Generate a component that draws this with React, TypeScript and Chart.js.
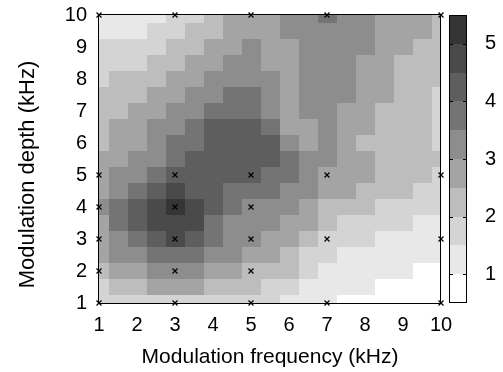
import { useEffect, useRef } from "react";
import { Chart, registerables } from "chart.js";

Chart.register(...registerables);

// grid node positions (kHz)
const xNodes = [1, 1.5, 2, 2.5, 3, 3.5, 4, 4.5, 5, 5.5, 6, 6.5, 7, 7.5, 8, 8.5, 9, 9.5, 10];
const yNodes = [10, 9.5, 9, 8.5, 8, 7.5, 7, 6.5, 6, 5.5, 5, 4.5, 4, 3.5, 3, 2.5, 2, 1.5, 1];

// values per row, x = 1 .. 10
const r10 = [1.35, 1.26, 1.26, 1.35, 1.71, 1.98, 2.33, 2.51, 2.69, 2.87, 3.27, 3.31, 3.58, 3.31, 3.27, 2.69, 2.69, 2.69, 2.42];
const r9_5 = [1.44, 1.35, 1.44, 1.62, 1.8, 2.15, 2.42, 2.69, 2.87, 2.87, 3.31, 3.31, 3.49, 3.31, 3.27, 2.69, 2.69, 2.6, 2.33];
const r9 = [1.62, 1.62, 1.71, 1.89, 2.07, 2.33, 2.6, 2.87, 3.05, 2.96, 2.95, 3.31, 3.4, 3.31, 3.23, 2.69, 2.69, 2.33, 2.33];
const r8_5 = [1.8, 1.89, 1.98, 2.15, 2.33, 2.6, 2.87, 3.05, 3.23, 2.95, 2.78, 3.31, 3.36, 3.31, 2.78, 2.69, 2.42, 2.33, 2.15];
const r8 = [1.98, 2.07, 2.15, 2.42, 2.69, 2.96, 3.23, 3.4, 3.4, 3.1, 2.69, 3.27, 3.36, 3.27, 2.69, 2.69, 2.33, 2.33, 2.07];
const r7_5 = [2.07, 2.24, 2.42, 2.69, 2.96, 3.23, 3.49, 3.67, 3.58, 3.2, 2.78, 3.23, 3.36, 3.23, 2.69, 2.51, 2.33, 2.24, 1.98];
const r7 = [2.24, 2.42, 2.6, 2.96, 3.23, 3.49, 3.76, 3.89, 3.76, 3.49, 2.87, 3.05, 3.31, 2.69, 2.69, 2.26, 2.26, 2.15, 1.98];
const r6_5 = [2.33, 2.51, 2.78, 3.14, 3.4, 3.76, 4.03, 4.12, 4.03, 3.76, 2.9, 2.87, 3.27, 2.69, 2.51, 2.24, 2.15, 2.07, 1.89];
const r6 = [2.42, 2.69, 2.96, 3.31, 3.58, 3.94, 4.21, 4.3, 4.25, 4.03, 3.2, 2.87, 3.14, 2.69, 2.3, 2.24, 2.24, 2.15, 1.95];
const r5_5 = [2.51, 2.87, 3.05, 3.47, 3.89, 4.12, 4.25, 4.25, 4.25, 4.1, 3.76, 3.3, 3.2, 2.78, 2.69, 2.42, 2.33, 2.15, 2.1];
const r5 = [2.69, 3.05, 3.4, 3.83, 4.12, 4.12, 4.12, 4.03, 4.07, 3.94, 3.76, 3.4, 2.87, 2.69, 2.51, 2.33, 2.24, 2.15, 1.89];
const r4_5 = [2.87, 3.31, 3.76, 4.25, 4.55, 4.34, 4.07, 3.76, 3.76, 3.67, 3.47, 3.14, 2.69, 2.51, 2.33, 2.15, 2.07, 1.89, 1.8];
const r4 = [3.05, 3.58, 4.12, 4.54, 5.05, 4.55, 4.07, 3.58, 3.47, 3.47, 3.23, 2.87, 2.42, 2.24, 2.07, 1.89, 1.8, 1.71, 1.8];
const r3_5 = [2.87, 3.58, 4.12, 4.54, 4.75, 4.5, 3.94, 3.47, 3.27, 3.23, 2.96, 2.6, 2.15, 1.98, 1.8, 1.69, 1.57, 1.44, 1.35];
const r3 = [2.76, 3.4, 3.89, 4.4, 4.55, 4.12, 3.72, 3.27, 3.05, 2.96, 2.69, 2.33, 1.89, 1.71, 1.57, 1.44, 1.35, 1.26, 1.26];
const r2_5 = [2.51, 3.05, 3.4, 3.72, 3.89, 3.72, 3.4, 3.05, 2.78, 2.69, 2.4, 1.98, 1.66, 1.44, 1.35, 1.26, 1.17, 1.17, 1.26];
const r2 = [2.33, 2.69, 2.96, 3.12, 3.23, 3.12, 2.96, 2.69, 2.42, 2.33, 2.07, 1.71, 1.39, 1.26, 1.17, 1.17, 1.08, 0.95, 0.85];
const r1_5 = [1.98, 2.15, 2.33, 2.51, 2.6, 2.51, 2.4, 2.24, 2.07, 1.98, 1.71, 1.44, 1.26, 1.15, 1.05, 0.8, 0.75, 0.75, 0.75];
const r1 = [1.62, 1.71, 1.8, 1.89, 1.89, 1.89, 1.8, 1.71, 1.62, 1.53, 1.44, 1.26, 1.08, 0.85, 0.75, 0.75, 0.75, 0.75, 0.75];

const gridRows = [r10, r9_5, r9, r8_5, r8, r7_5, r7, r6_5, r6, r5_5, r5, r4_5, r4, r3_5, r3, r2_5, r2, r1_5, r1];

// measured sample points
const sampleX = [1, 3, 5, 7, 10, 1, 3, 5, 7, 10, 1, 3, 5, 1, 3, 5, 7, 10, 1, 3, 5, 1, 3, 5, 7, 10];
const sampleY = [10, 10, 10, 10, 10, 5, 5, 5, 5, 5, 4, 4, 4, 3, 3, 3, 3, 3, 2, 2, 2, 1, 1, 1, 1, 1];

// colour scale
const levelBounds = [0.5, 1, 1.5, 2, 2.5, 3, 3.5, 4, 4.5, 5, 5.5];
const levelColors = ["#ffffff", "#e8e8e8", "#d4d4d4", "#bdbdbd", "#a4a4a4", "#8d8d8d", "#747474", "#5e5e5e", "#4a4a4a", "#353535"];

const xTicks = [1, 2, 3, 4, 5, 6, 7, 8, 9, 10];
const yTicks = [1, 2, 3, 4, 5, 6, 7, 8, 9, 10];
const colorTicks = [1, 2, 3, 4, 5];

const xTitle = "Modulation frequency (kHz)";
const yTitle = "Modulation depth (kHz)";

const FONT = "'Liberation Sans', Arial, Helvetica, sans-serif";

function levelColor(v: number): string {
  for (let k = 0; k < levelColors.length; k++) {
    if (v < levelBounds[k + 1]) return levelColors[k];
  }
  return levelColors[levelColors.length - 1];
}

function noPad(s: any) {
  s.paddingTop = 0;
  s.paddingBottom = 0;
  s.paddingLeft = 0;
  s.paddingRight = 0;
}

const heatPlugin = {
  id: "heat",
  beforeDatasetsDraw(chart: any) {
    const { ctx, chartArea, scales } = chart;
    const xs = scales.x;
    const ys = scales.y;
    const cs = scales.y2;
    const xMin = xNodes[0];
    const xMax = xNodes[xNodes.length - 1];
    const yMin = yNodes[yNodes.length - 1];
    const yMax = yNodes[0];
    ctx.save();
    for (let r = 0; r < yNodes.length; r++) {
      for (let c = 0; c < xNodes.length; c++) {
        const v = gridRows[r][c];
        const x0 = Math.max(xMin, xNodes[c] - 0.25);
        const x1 = Math.min(xMax, xNodes[c] + 0.25);
        const y0 = Math.max(yMin, yNodes[r] - 0.25);
        const y1 = Math.min(yMax, yNodes[r] + 0.25);
        const px0 = Math.round(xs.getPixelForValue(x0));
        const px1 = Math.round(xs.getPixelForValue(x1));
        const py0 = Math.round(ys.getPixelForValue(y1));
        const py1 = Math.round(ys.getPixelForValue(y0));
        ctx.fillStyle = levelColor(v);
        ctx.fillRect(px0, py0, px1 - px0, py1 - py0);
      }
    }
    // frame of plot
    ctx.strokeStyle = "#000";
    ctx.lineWidth = 1;
    const L = Math.round(chartArea.left);
    const T = Math.round(chartArea.top);
    const R = Math.round(chartArea.right);
    const B = Math.round(chartArea.bottom);
    ctx.strokeRect(L - 0.5, T - 0.5, R - L, B - T + 1);

    // colour bar
    const cx0 = Math.round(cs.left) + 8;
    const cx1 = cx0 + 18;
    for (let k = 0; k < levelColors.length; k++) {
      const yTop = Math.round(cs.getPixelForValue(levelBounds[k + 1]));
      const yBot = Math.round(cs.getPixelForValue(levelBounds[k]));
      ctx.fillStyle = levelColors[k];
      ctx.fillRect(cx0, yTop, cx1 - cx0, yBot - yTop);
    }
    const cTop = Math.round(cs.getPixelForValue(levelBounds[levelBounds.length - 1]));
    const cBot = Math.round(cs.getPixelForValue(levelBounds[0]));
    ctx.strokeRect(cx0 + 0.5, cTop + 0.5, cx1 - cx0 - 1, cBot - cTop - 1);
    ctx.beginPath();
    for (const t of colorTicks) {
      const py = Math.round(cs.getPixelForValue(t)) + 0.5;
      ctx.moveTo(cx0, py);
      ctx.lineTo(cx0 + 4, py);
      ctx.moveTo(cx1 - 4, py);
      ctx.lineTo(cx1, py);
    }
    ctx.stroke();
    ctx.restore();
  },
  afterDraw(chart: any) {
    // y-axis title, centred on the full figure height as in the reference
    const { ctx } = chart;
    ctx.save();
    ctx.translate(27.5, 174.5);
    ctx.rotate(-Math.PI / 2);
    ctx.font = `22px ${FONT}`;
    ctx.fillStyle = "#000";
    ctx.textAlign = "center";
    ctx.textBaseline = "middle";
    ctx.fillText(yTitle, 0, 0);
    ctx.restore();
  },
};

export default function App() {
  const canvasRef = useRef<HTMLCanvasElement | null>(null);

  useEffect(() => {
    document.body.style.margin = "0";
    const canvas = canvasRef.current;
    if (!canvas) return;
    const points = sampleX.map((x, i) => ({ x, y: sampleY[i] }));
    const chart = new Chart(canvas, {
      type: "scatter",
      data: {
        datasets: [
          {
            data: points,
            pointStyle: "crossRot",
            pointRadius: 3.5,
            pointHoverRadius: 3.5,
            borderColor: "#000",
            backgroundColor: "#000",
            borderWidth: 1.2,
            clip: false as any,
          },
        ],
      },
      options: {
        responsive: false,
        animation: false,
        devicePixelRatio: 1,
        events: [],
        layout: { padding: { left: 0, right: 0, top: 15, bottom: 0 } },
        plugins: { legend: { display: false }, tooltip: { enabled: false } },
        scales: {
          x: {
            type: "linear",
            position: "bottom",
            min: 1,
            max: 10,
            grid: { display: false, drawTicks: false },
            border: { display: false },
            afterBuildTicks: (s: any) => {
              s.ticks = xTicks.map((v) => ({ value: v }));
            },
            afterFit: (s: any) => {
              s.height = 69;
              noPad(s);
            },
            ticks: {
              autoSkip: false,
              maxRotation: 0,
              padding: 10,
              color: "#000",
              font: { family: FONT, size: 20 },
            },
            title: {
              display: true,
              text: xTitle,
              color: "#000",
              font: { family: FONT, size: 21 },
              padding: { top: 0, bottom: 2 },
            },
          },
          y: {
            type: "linear",
            position: "left",
            min: 1,
            max: 10,
            grid: { display: false, drawTicks: false },
            border: { display: false },
            afterBuildTicks: (s: any) => {
              s.ticks = yTicks.map((v) => ({ value: v }));
            },
            afterFit: (s: any) => {
              s.width = 99;
              noPad(s);
            },
            ticks: {
              autoSkip: false,
              padding: 12,
              color: "#000",
              font: { family: FONT, size: 20 },
            },
            title: { display: false, text: yTitle },
          },
          y2: {
            type: "linear",
            position: "right",
            min: levelBounds[0],
            max: levelBounds[levelBounds.length - 1],
            grid: { display: false, drawTicks: false },
            border: { display: false },
            afterBuildTicks: (s: any) => {
              s.ticks = colorTicks.map((v) => ({ value: v }));
            },
            afterFit: (s: any) => {
              s.width = 62;
              noPad(s);
            },
            ticks: {
              autoSkip: false,
              padding: 44,
              color: "#000",
              font: { family: FONT, size: 20 },
            },
          },
        },
      },
      plugins: [heatPlugin],
    });
    return () => chart.destroy();
  }, []);

  return (
    <div style={{ width: 503, height: 372, position: "relative" }}>
      <canvas ref={canvasRef} width={503} height={372} style={{ display: "block" }} />
    </div>
  );
}
